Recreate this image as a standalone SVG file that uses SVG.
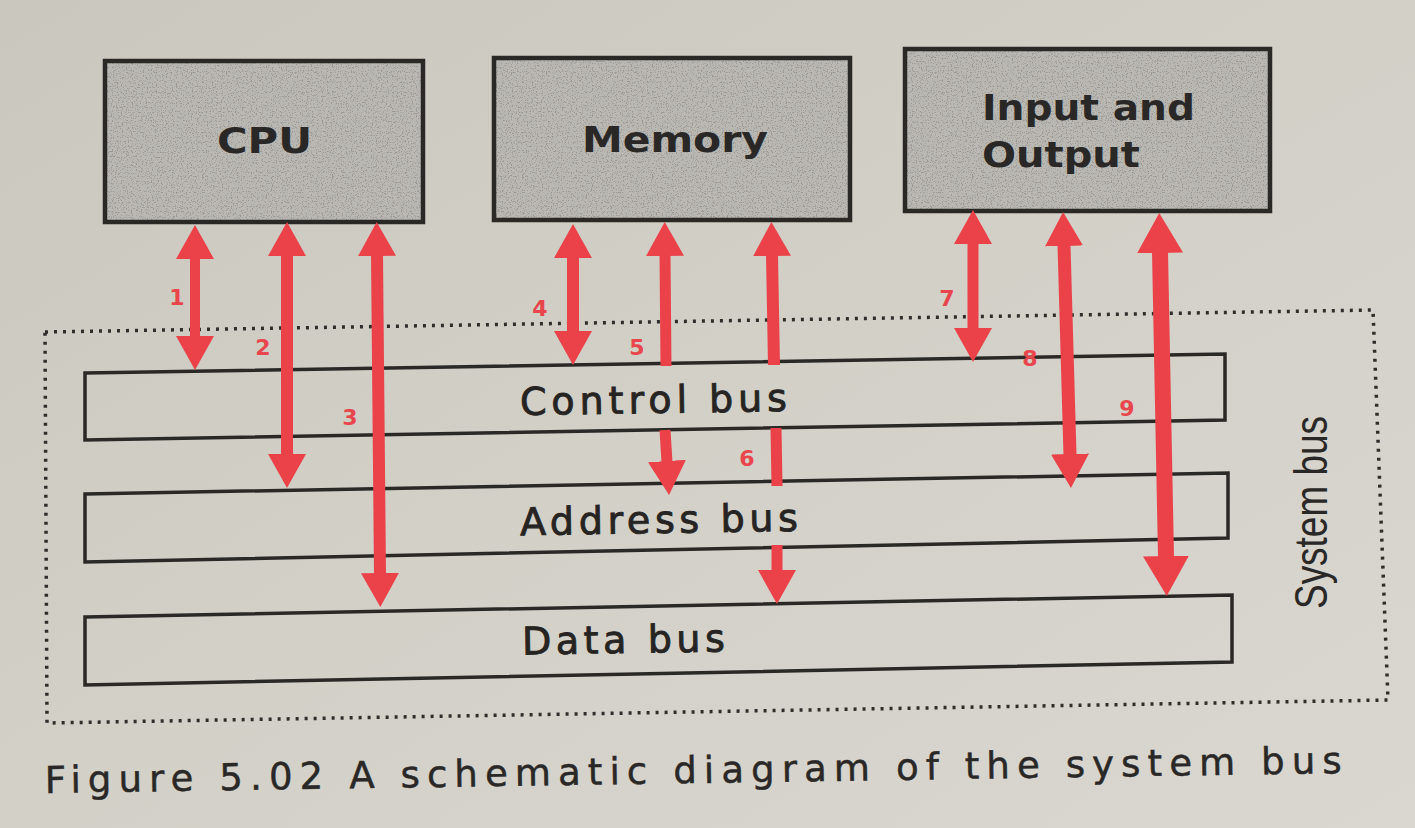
<svg xmlns="http://www.w3.org/2000/svg" width="1415" height="828" viewBox="0 0 1415 828">
  <defs>
    <linearGradient id="paper" x1="0" y1="0" x2="1" y2="1">
      <stop offset="0" stop-color="#cac7be"/>
      <stop offset="0.5" stop-color="#d3d0c8"/>
      <stop offset="1" stop-color="#d9d7d0"/>
    </linearGradient>
    <filter id="grain" x="-3%" y="-3%" width="106%" height="106%">
      <feTurbulence type="fractalNoise" baseFrequency="0.8" numOctaves="2" seed="7" result="n"/>
      <feColorMatrix in="n" type="matrix" values="0 0 0 0 0.32  0 0 0 0 0.31  0 0 0 0 0.3  0 0 0 -6 2.75" result="dots"/>
      <feComposite in="dots" in2="SourceGraphic" operator="in" result="d2"/>
      <feMerge><feMergeNode in="SourceGraphic"/><feMergeNode in="d2"/></feMerge>
    </filter>
    <marker id="head" viewBox="0 0 34 38" refX="1" refY="19" markerWidth="34" markerHeight="38" markerUnits="userSpaceOnUse" orient="auto-start-reverse">
      <path d="M0,0 L34,19 L0,38 Z" fill="#eb4249"/>
    </marker>
    <marker id="headBig" viewBox="0 0 40 46" refX="1" refY="23" markerWidth="40" markerHeight="46" markerUnits="userSpaceOnUse" orient="auto-start-reverse">
      <path d="M0,0 L40,23 L0,46 Z" fill="#eb4249"/>
    </marker>
    <style>
      .unit { fill: #bab8b2; }
      .unit-border { fill: none; stroke: #2b2926; stroke-width: 4.5; }
      .unit-text { font-family: "DejaVu Sans", "Liberation Sans", sans-serif; font-weight: bold; font-size: 35px; fill: #2a2826; }
      .bus { fill: none; stroke: #2b2926; stroke-width: 3.5; stroke-linejoin: miter; }
      .bus-text { font-family: "DejaVu Sans", "Liberation Sans", sans-serif; font-size: 38px; fill: #262422; stroke: #262422; stroke-width: 0.9; }
      .frame { fill: none; stroke: #2f2d2a; stroke-width: 3.5; stroke-dasharray: 3 6; }
      .side-text { font-family: "Liberation Sans Narrow", "Liberation Sans", sans-serif; font-size: 46px; fill: #2a2826; }
      .caption { font-family: "DejaVu Sans", "Liberation Sans", sans-serif; font-size: 37px; fill: #2a2826; stroke: #2a2826; stroke-width: 0.5; }
      .arrow { fill: none; stroke: #eb4249; stroke-linecap: butt; }
      .num { font-family: "DejaVu Sans", "Liberation Sans", sans-serif; font-weight: bold; font-size: 22px; fill: #e8454c; text-anchor: middle; }
    </style>
  </defs>

  <rect x="0" y="0" width="1415" height="828" fill="url(#paper)"/>

  <g id="system-bus">
    <polygon class="frame" points="45,332 1373,310 1388,700 47,723"/>
    <text class="side-text" transform="translate(1327,609) rotate(-90)" x="0" y="0" textLength="193" lengthAdjust="spacingAndGlyphs">System bus</text>
  </g>

  <g id="cpu">
    <rect class="unit" x="105" y="61" width="318" height="161" filter="url(#grain)"/>
    <rect class="unit-border" x="105" y="61" width="318" height="161"/>
    <text class="unit-text" x="217" y="153" textLength="95" lengthAdjust="spacingAndGlyphs">CPU</text>
  </g>

  <g id="memory">
    <rect class="unit" x="494" y="58" width="356" height="162" filter="url(#grain)"/>
    <rect class="unit-border" x="494" y="58" width="356" height="162"/>
    <text class="unit-text" x="582" y="152" textLength="186" lengthAdjust="spacingAndGlyphs">Memory</text>
  </g>

  <g id="input-output">
    <rect class="unit" x="905" y="49" width="365" height="162" filter="url(#grain)"/>
    <rect class="unit-border" x="905" y="49" width="365" height="162"/>
    <text class="unit-text" x="982" y="120" textLength="213" lengthAdjust="spacingAndGlyphs">Input and</text>
    <text class="unit-text" x="982" y="167" textLength="158" lengthAdjust="spacingAndGlyphs">Output</text>
  </g>

  <g id="control-bus">
    <polygon class="bus" points="85,373 1225,354 1225,420 85,440"/>
    <text class="bus-text" x="520" y="413" textLength="267" transform="rotate(-0.9 654 405)">Control bus</text>
  </g>

  <g id="address-bus">
    <polygon class="bus" points="85,494 1228,473 1228,538 85,562"/>
    <text class="bus-text" x="520" y="533" textLength="278" transform="rotate(-0.9 659 525)">Address bus</text>
  </g>

  <g id="data-bus">
    <polygon class="bus" points="85,617 1232,595 1232,662 85,685"/>
    <text class="bus-text" x="522" y="653" textLength="203" transform="rotate(-0.9 623 645)">Data bus</text>
  </g>

  <g id="connectors">
    <path class="arrow" stroke-width="10" d="M195,258 L195,337" marker-start="url(#head)" marker-end="url(#head)"/>
    <path class="arrow" stroke-width="12" d="M287,255 L287,455" marker-start="url(#head)" marker-end="url(#head)"/>
    <path class="arrow" stroke-width="12" d="M377,255 L380,574" marker-start="url(#head)" marker-end="url(#head)"/>
    <path class="arrow" stroke-width="12" d="M573,257 L573,332" marker-start="url(#head)" marker-end="url(#head)"/>
    <path class="arrow" stroke-width="11" d="M665,255 L666,366" marker-start="url(#head)"/>
    <path class="arrow" stroke-width="11" d="M665,430 L667,462" marker-end="url(#head)"/>
    <path class="arrow" stroke-width="12" d="M772,255 L774,365" marker-start="url(#head)"/>
    <path class="arrow" stroke-width="11" d="M776,428 L777,486"/>
    <path class="arrow" stroke-width="11" d="M777,545 L777,571" marker-end="url(#head)"/>
    <path class="arrow" stroke-width="11" d="M973,243 L973,329" marker-start="url(#head)" marker-end="url(#head)"/>
    <path class="arrow" stroke-width="13" d="M1064,245 L1070,455" marker-start="url(#head)" marker-end="url(#head)"/>
    <path class="arrow" stroke-width="16" d="M1160,252 L1166,557" marker-start="url(#headBig)" marker-end="url(#headBig)"/>
  </g>

  <g id="connector-labels">
    <text class="num" x="177" y="305">1</text>
    <text class="num" x="263" y="355">2</text>
    <text class="num" x="350" y="425">3</text>
    <text class="num" x="540" y="316">4</text>
    <text class="num" x="637" y="355">5</text>
    <text class="num" x="747" y="466">6</text>
    <text class="num" x="947" y="306">7</text>
    <text class="num" x="1030" y="366">8</text>
    <text class="num" x="1127" y="416">9</text>
  </g>

  <text class="caption" x="45" y="793" textLength="1297" transform="rotate(-0.88 45 793)">Figure 5.02 A schematic diagram of the system bus</text>
</svg>
